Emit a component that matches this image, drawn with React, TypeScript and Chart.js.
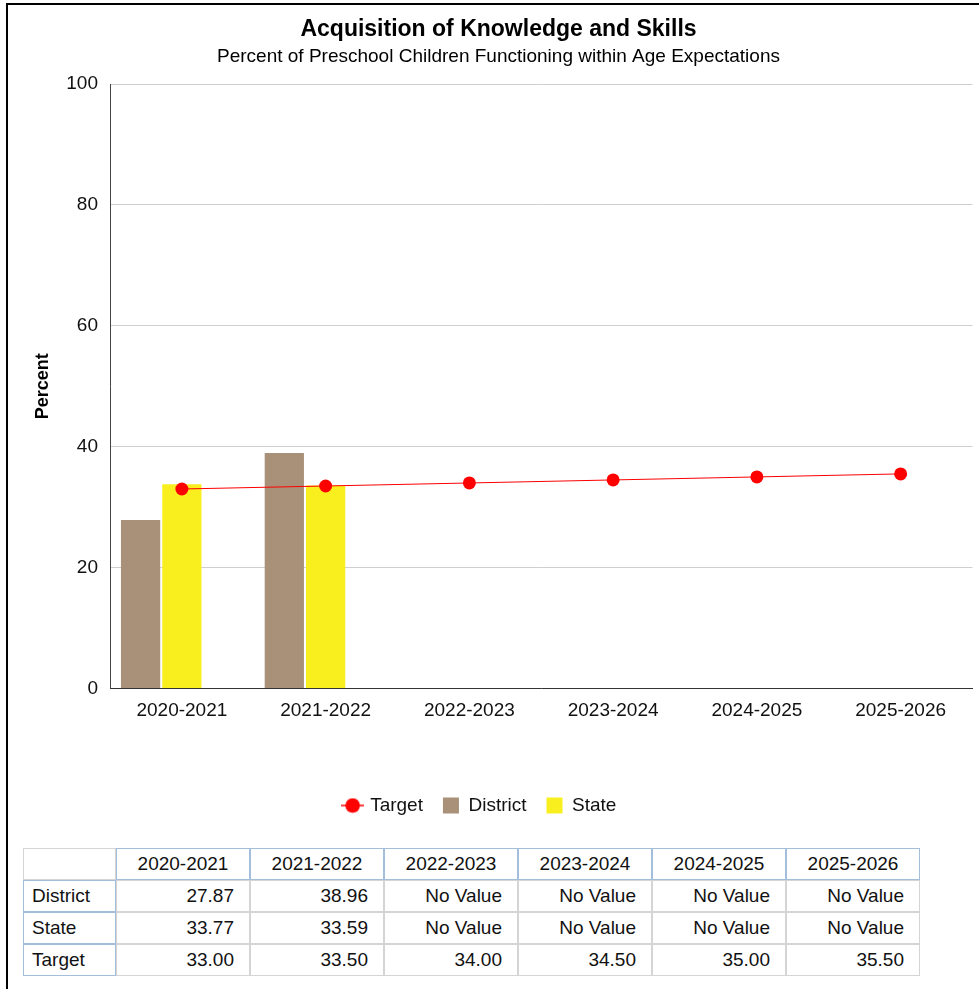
import React, { useEffect, useRef } from 'react';
import { Chart, registerables } from 'chart.js';

Chart.register(...registerables);

const categories = ['2020-2021', '2021-2022', '2022-2023', '2023-2024', '2024-2025', '2025-2026'];
const districtValues: (number | null)[] = [27.87, 38.96, null, null, null, null];
const stateValues: (number | null)[] = [33.77, 33.59, null, null, null, null];
const targetValues: (number | null)[] = [33.0, 33.5, 34.0, 34.5, 35.0, 35.5];
const yMin = 0;
const yMax = 100;
const yStep = 20;

const chartTitle = 'Acquisition of Knowledge and Skills';
const chartSubtitle = 'Percent of Preschool Children Functioning within Age Expectations';
const yAxisTitle = 'Percent';
const noValueText = 'No Value';

const FONT = '"Liberation Sans", Arial, Helvetica, sans-serif';
const DISTRICT_COLOR = '#a89178';
const STATE_COLOR = '#f9ee1e';
const TARGET_COLOR = '#ff0000';

const tableRows = [
  { name: 'District', values: districtValues },
  { name: 'State', values: stateValues },
  { name: 'Target', values: targetValues },
];

function makeTargetMarker(): HTMLCanvasElement {
  const c = document.createElement('canvas');
  c.width = 23;
  c.height = 16;
  const ctx = c.getContext('2d')!;
  ctx.strokeStyle = TARGET_COLOR;
  ctx.lineWidth = 1.5;
  ctx.beginPath();
  ctx.moveTo(0, 8);
  ctx.lineTo(23, 8);
  ctx.stroke();
  ctx.fillStyle = TARGET_COLOR;
  ctx.beginPath();
  ctx.arc(11.5, 8, 7.3, 0, Math.PI * 2);
  ctx.fill();
  return c;
}

const legendShift = {
  id: 'legendShift',
  afterLayout(chart: any) {
    const lg = chart.legend;
    if (lg) {
      lg.left -= 18;
      lg.right -= 18;
    }
  },
};

export default function App() {
  const canvasRef = useRef<HTMLCanvasElement | null>(null);

  useEffect(() => {
    if (!canvasRef.current) return;
    const marker = makeTargetMarker();
    Chart.defaults.font.family = FONT;
    Chart.defaults.font.size = 19;
    Chart.defaults.color = '#111';

    const chart = new Chart(canvasRef.current, {
      type: 'bar',
      plugins: [legendShift],
      data: {
        labels: categories,
        datasets: [
          {
            type: 'line',
            label: 'Target',
            data: targetValues,
            borderColor: TARGET_COLOR,
            backgroundColor: TARGET_COLOR,
            borderWidth: 1,
            pointRadius: 6.5,
            pointBorderWidth: 0,
            pointBackgroundColor: TARGET_COLOR,
            tension: 0,
            fill: false,
          } as any,
          {
            type: 'bar',
            label: 'District',
            data: districtValues,
            backgroundColor: DISTRICT_COLOR,
            categoryPercentage: 0.862,
            barPercentage: 0.95,
          },
          {
            type: 'bar',
            label: 'State',
            data: stateValues,
            backgroundColor: STATE_COLOR,
            categoryPercentage: 0.862,
            barPercentage: 0.95,
          },
          {
            type: 'bar',
            label: '__spacer__',
            data: categories.map(() => null),
            backgroundColor: 'rgba(0,0,0,0)',
            categoryPercentage: 0.862,
            barPercentage: 0.95,
          },
        ],
      },
      options: {
        animation: false,
        responsive: true,
        maintainAspectRatio: false,
        layout: { padding: { left: 16, right: 6, top: 0, bottom: 0 } },
        plugins: {
          title: {
            display: true,
            text: chartTitle,
            color: '#000',
            font: { size: 23, weight: 'bold', family: FONT },
            padding: { top: 11, bottom: 2 },
          },
          subtitle: {
            display: true,
            text: chartSubtitle,
            color: '#000',
            font: { size: 19, family: FONT },
            padding: { top: 0, bottom: 15.6 },
          },
          legend: {
            position: 'bottom',
            labels: {
              usePointStyle: true,
              boxWidth: 16,
              boxHeight: 16,
              padding: 20,
              color: '#111',
              font: { size: 19, family: FONT },
              filter: (item) => item.text !== '__spacer__',
              generateLabels: (ch) => {
                const items = Chart.defaults.plugins.legend.labels.generateLabels(ch);
                return items.map((it) => {
                  if (it.text === 'Target') {
                    return { ...it, pointStyle: marker as any, lineWidth: 0 };
                  }
                  return { ...it, pointStyle: 'rect', lineWidth: 0, strokeStyle: 'rgba(0,0,0,0)' };
                });
              },
            },
          },
          tooltip: { enabled: false },
        },
        scales: {
          x: {
            grid: { display: false, drawTicks: false },
            border: { display: true, color: '#333', width: 1 },
            ticks: { padding: 11, color: '#111', font: { size: 19, family: FONT } },
            afterFit: (scale: any) => {
              scale.height = 87.5;
            },
          },
          y: {
            min: yMin,
            max: yMax,
            ticks: { stepSize: yStep, padding: 12, color: '#111', font: { size: 19, family: FONT } },
            grid: { color: '#cfcfcf', lineWidth: 1, drawTicks: false },
            border: { display: true, color: '#444', width: 1 },
            title: {
              display: true,
              text: yAxisTitle,
              color: '#000',
              font: { size: 18, weight: 'bold', family: FONT },
              padding: { top: 8, bottom: 0 },
            },
            afterFit: (scale: any) => {
              scale.width = 86;
            },
          },
        },
      },
    });
    return () => chart.destroy();
  }, []);

  const blue = '1px solid #a3bfdc';
  const gray = '1px solid #d4d4d4';
  const cellBase: React.CSSProperties = {
    height: 30,
    padding: '0 8px',
    fontSize: 19,
    fontFamily: FONT,
    color: '#111',
    whiteSpace: 'nowrap',
  };

  return (
    <div
      style={{
        position: 'absolute',
        left: 6,
        top: 3,
        width: 973,
        height: 986,
        borderTop: '2px solid #000',
        borderLeft: '2px solid #000',
        overflow: 'hidden',
        background: '#fff',
        fontFamily: FONT,
      }}
    >
      <div style={{ position: 'relative', width: 971, height: 820 }}>
        <canvas ref={canvasRef} />
      </div>
      <table
        style={{
          position: 'absolute',
          left: 15,
          top: 843,
          borderCollapse: 'separate',
          borderSpacing: 0,
          tableLayout: 'fixed',
          width: 897,
        }}
      >
        <colgroup>
          <col style={{ width: 93 }} />
          {categories.map((c) => (
            <col key={c} style={{ width: 134 }} />
          ))}
        </colgroup>
        <thead>
          <tr>
            <th style={{ ...cellBase, border: gray }}></th>
            {categories.map((c) => (
              <th key={c} style={{ ...cellBase, border: blue, fontWeight: 'normal', textAlign: 'center' }}>
                {c}
              </th>
            ))}
          </tr>
        </thead>
        <tbody>
          {tableRows.map((r) => (
            <tr key={r.name}>
              <td style={{ ...cellBase, border: blue, textAlign: 'left' }}>{r.name}</td>
              {r.values.map((v, i) => (
                <td key={i} style={{ ...cellBase, border: gray, textAlign: 'right', paddingRight: 15 }}>
                  {v == null ? noValueText : v.toFixed(2)}
                </td>
              ))}
            </tr>
          ))}
        </tbody>
      </table>
    </div>
  );
}
